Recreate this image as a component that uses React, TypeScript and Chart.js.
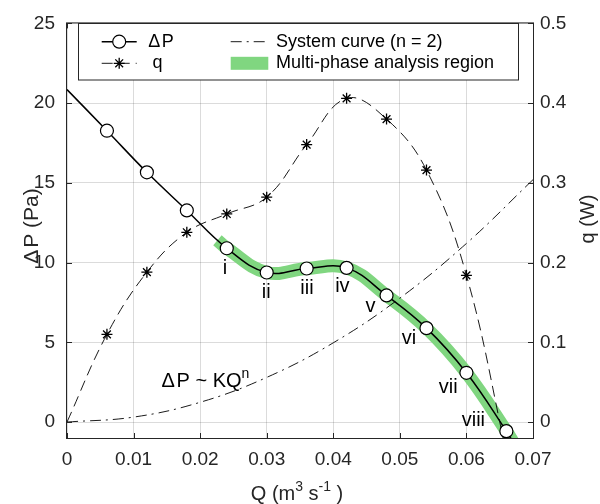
import React, { useEffect, useRef } from "react";
import { Chart, registerables } from "chart.js";

Chart.register(...registerables);

// ---------------- data ----------------
const flowQ = [0.006, 0.012, 0.018, 0.024, 0.03, 0.036, 0.042, 0.048, 0.054, 0.06, 0.066];
const pressureDrop = [18.27, 15.66, 13.27, 10.9, 9.38, 9.63, 9.67, 7.94, 5.89, 3.09, -0.57];
const heatQ = [0.11, 0.188, 0.238, 0.261, 0.282, 0.348, 0.406, 0.38, 0.316, 0.184, -0.038];

// curve end points
const dpLineStartQ = 0;
const dpLineStartP = 20.85;
const dpLineEndQ = 0.0675;
const dpLineEndP = -1.6;
const heatStartQ = 0;
const heatStartV = 0;
const multiphaseStartQ = 0.0226;
const multiphaseStartP = 11.4;
const multiphaseFirstIndex = 3;

const systemQ = [0, 0.01, 0.02, 0.03, 0.04, 0.05, 0.06, 0.07];
const systemDP = [0, 0.31, 1.24, 2.8, 4.97, 7.77, 11.2, 15.2];

const phaseLabels = ["i", "ii", "iii", "iv", "v", "vi", "vii", "viii"];

const xTicks = [0, 0.01, 0.02, 0.03, 0.04, 0.05, 0.06, 0.07];
const yLeftTicks = [0, 5, 10, 15, 20, 25];
const yRightTicks = [0, 0.1, 0.2, 0.3, 0.4, 0.5];

const legendLabels = ["\u0394\u200AP", "q", "System curve (n = 2)", "Multi-phase analysis region"];

// ---------------- style ----------------
const FONT = "'Liberation Sans', Arial, Helvetica, sans-serif";
const AX = "#262626";
const GRID = "rgba(0,0,0,0.14)";
const GREEN = "rgb(128,214,128)";
const Q_DASH = [11, 6];
const SYS_DASH = [11, 5, 2, 5];
// label offsets (px) relative to the marker
const phaseOffsets: [number, number][] = [
  [-1.7, 20],
  [-0.4, 20],
  [0.3, 20.3],
  [-4.2, 18.5],
  [-16, 11],
  [-17.5, 10.2],
  [-18.3, 14.8],
  [-33, -10.3],
];

const fmt = (v: number) => String(+Number(v).toFixed(3));

function drawStar(ctx: CanvasRenderingContext2D, x: number, y: number, r: number) {
  ctx.beginPath();
  for (let k = 0; k < 4; k++) {
    const a = (k * Math.PI) / 4;
    ctx.moveTo(x - Math.cos(a) * r, y - Math.sin(a) * r);
    ctx.lineTo(x + Math.cos(a) * r, y + Math.sin(a) * r);
  }
  ctx.stroke();
}

function drawCircle(ctx: CanvasRenderingContext2D, x: number, y: number, r: number) {
  ctx.beginPath();
  ctx.arc(x, y, r, 0, Math.PI * 2);
  ctx.fillStyle = "#fff";
  ctx.fill();
  ctx.stroke();
}

type Part = { t: string; sup?: boolean };
function drawRich(
  ctx: CanvasRenderingContext2D,
  parts: Part[],
  x: number,
  y: number,
  size: number,
  align: "left" | "center"
) {
  const supSize = size * 0.7;
  const rise = size * 0.45;
  let total = 0;
  const widths = parts.map((p) => {
    ctx.font = `${p.sup ? supSize : size}px ${FONT}`;
    const w = ctx.measureText(p.t).width;
    total += w;
    return w;
  });
  let cx = align === "center" ? x - total / 2 : x;
  ctx.textAlign = "left";
  ctx.textBaseline = "alphabetic";
  parts.forEach((p, i) => {
    ctx.font = `${p.sup ? supSize : size}px ${FONT}`;
    ctx.fillText(p.t, cx, p.sup ? y - rise : y);
    cx += widths[i];
  });
}

const overlayPlugin = {
  id: "overlay",
  afterDatasetsDraw(chart: any) {
    const { ctx, chartArea: a, scales } = chart;
    const xs = scales.x;
    const yl = scales.y;
    const yr = scales.y1;
    ctx.save();

    // frame
    ctx.strokeStyle = AX;
    ctx.lineWidth = 1;
    ctx.setLineDash([]);
    ctx.strokeRect(a.left - 0.5, a.top - 0.5, a.right - a.left + 1, a.bottom - a.top + 1);

    // inward tick marks
    const TL = 5;
    ctx.beginPath();
    xTicks.forEach((v) => {
      const px = Math.round(xs.getPixelForValue(v)) + 0.5;
      ctx.moveTo(px, a.bottom);
      ctx.lineTo(px, a.bottom - TL);
      ctx.moveTo(px, a.top);
      ctx.lineTo(px, a.top + TL);
    });
    yLeftTicks.forEach((v) => {
      const py = Math.round(yl.getPixelForValue(v)) + 0.5;
      ctx.moveTo(a.left, py);
      ctx.lineTo(a.left + TL, py);
    });
    yRightTicks.forEach((v) => {
      const py = Math.round(yr.getPixelForValue(v)) + 0.5;
      ctx.moveTo(a.right, py);
      ctx.lineTo(a.right - TL, py);
    });
    ctx.stroke();

    // phase labels
    ctx.fillStyle = "#000";
    ctx.font = `20px ${FONT}`;
    ctx.textAlign = "center";
    ctx.textBaseline = "middle";
    phaseLabels.forEach((lab, k) => {
      const idx = multiphaseFirstIndex + k;
      const px = xs.getPixelForValue(flowQ[idx]) + phaseOffsets[k][0];
      const py = yl.getPixelForValue(pressureDrop[idx]) + phaseOffsets[k][1];
      ctx.fillText(lab, px, py);
    });

    // system-curve annotation
    ctx.fillStyle = "#000";
    drawRich(
      ctx,
      [{ t: "\u0394\u200AP ~ KQ" }, { t: "n", sup: true }],
      161.5,
      386.5,
      20,
      "left"
    );

    // legend
    const L = { x: 78.5, y: 23.5, w: 440, h: 56.5 };
    ctx.fillStyle = "#fff";
    ctx.fillRect(L.x, L.y, L.w, L.h);
    ctx.strokeStyle = AX;
    ctx.lineWidth = 1;
    ctx.strokeRect(L.x, L.y, L.w, L.h);

    const r1 = 41.7;
    const r2 = 63.3;
    const c1a = 101.7;
    const c1b = 136.7;
    const c2a = 230.7;
    const c2b = 268.3;

    // ΔP
    ctx.strokeStyle = "#000";
    ctx.lineWidth = 1.5;
    ctx.beginPath();
    ctx.moveTo(c1a, r1);
    ctx.lineTo(c1b, r1);
    ctx.stroke();
    ctx.lineWidth = 1.2;
    drawCircle(ctx, (c1a + c1b) / 2, r1, 6.5);
    // q
    ctx.lineWidth = 0.9;
    ctx.setLineDash(Q_DASH);
    ctx.beginPath();
    ctx.moveTo(c1a, r2);
    ctx.lineTo(c1b, r2);
    ctx.stroke();
    ctx.setLineDash([]);
    ctx.lineWidth = 1.3;
    drawStar(ctx, (c1a + c1b) / 2, r2, 5.5);
    // system curve
    ctx.lineWidth = 0.9;
    ctx.setLineDash(SYS_DASH);
    ctx.beginPath();
    ctx.moveTo(c2a, r1);
    ctx.lineTo(c2b, r1);
    ctx.stroke();
    ctx.setLineDash([]);
    // green patch
    ctx.fillStyle = GREEN;
    ctx.fillRect(c2a, r2 - 6.5, c2b - c2a, 13);

    ctx.fillStyle = "#000";
    ctx.font = `18px ${FONT}`;
    ctx.textAlign = "left";
    ctx.textBaseline = "middle";
    ctx.fillText(legendLabels[0], 148.3, r1);
    ctx.fillText(legendLabels[1], 152.5, r2);
    ctx.fillText(legendLabels[2], 276, r1);
    ctx.fillText(legendLabels[3], 276, r2);

    ctx.restore();
  },
  afterDraw(chart: any) {
    const { ctx } = chart;
    ctx.save();
    ctx.fillStyle = AX;
    // x title
    drawRich(
      ctx,
      [{ t: "Q (m" }, { t: "3", sup: true }, { t: " s" }, { t: "-1", sup: true }, { t: " )" }],
      297,
      500,
      20,
      "center"
    );
    // left title
    ctx.save();
    ctx.translate(38, 226);
    ctx.rotate(-Math.PI / 2);
    ctx.font = `21px ${FONT}`;
    ctx.textAlign = "center";
    ctx.textBaseline = "alphabetic";
    ctx.fillText("\u0394\u200AP (Pa)", 0, 0);
    ctx.restore();
    // right title
    ctx.save();
    ctx.translate(594, 219);
    ctx.rotate(-Math.PI / 2);
    ctx.font = `20px ${FONT}`;
    ctx.textAlign = "center";
    ctx.textBaseline = "alphabetic";
    ctx.fillText("q (W)", 0, 0);
    ctx.restore();
    ctx.restore();
  },
};

export default function App() {
  const ref = useRef<HTMLCanvasElement | null>(null);

  useEffect(() => {
    if (!ref.current) return;
    const dpPoints = flowQ.map((q, i) => ({ x: q, y: pressureDrop[i] }));
    const dpLine = [
      { x: dpLineStartQ, y: dpLineStartP },
      ...dpPoints,
      { x: dpLineEndQ, y: dpLineEndP },
    ];
    const heatLine = [
      { x: heatStartQ, y: heatStartV },
      ...flowQ.map((q, i) => ({ x: q, y: heatQ[i] })),
    ];
    const greenLine = [
      { x: multiphaseStartQ, y: multiphaseStartP },
      ...dpPoints.slice(multiphaseFirstIndex),
      { x: dpLineEndQ, y: dpLineEndP },
    ];
    const systemLine = systemQ.map((q, i) => ({ x: q, y: systemDP[i] }));

    const tickFont = { family: FONT, size: 19 };

    const chart = new Chart(ref.current, {
      type: "line",
      data: {
        datasets: [
          {
            label: "dP",
            data: dpLine,
            yAxisID: "y",
            borderColor: "#000",
            borderWidth: 1.5,
            tension: 0.4,
            pointRadius: (c: any) => (c.dataIndex === 0 || c.dataIndex === dpLine.length - 1 ? 0 : 6.5),
            pointBackgroundColor: "#fff",
            pointBorderColor: "#000",
            pointBorderWidth: 1.2,
            order: 0,
            clip: 0,
          },
          {
            label: "q",
            data: heatLine,
            yAxisID: "y1",
            borderColor: "#000",
            borderWidth: 0.9,
            borderDash: Q_DASH,
            tension: 0.4,
            pointStyle: "star",
            pointRadius: (c: any) => (c.dataIndex === 0 ? 0 : 5.5),
            pointBorderColor: "#000",
            pointBorderWidth: 1.3,
            order: 1,
            clip: 0,
          },
          {
            label: "system",
            data: systemLine,
            yAxisID: "y",
            borderColor: "#000",
            borderWidth: 0.9,
            borderDash: SYS_DASH,
            tension: 0.4,
            pointRadius: 0,
            order: 2,
            clip: 0,
          },
          {
            label: "multiphase",
            data: greenLine,
            yAxisID: "y",
            borderColor: GREEN,
            borderWidth: 13,
            borderCapStyle: "butt",
            borderJoinStyle: "round",
            tension: 0.4,
            pointRadius: 0,
            order: 3,
            clip: 0,
          },
        ] as any,
      },
      options: {
        responsive: false,
        maintainAspectRatio: false,
        animation: false,
        devicePixelRatio: 1,
        layout: { padding: { top: 17, left: 0, right: 0, bottom: 0 } },
        plugins: { legend: { display: false }, tooltip: { enabled: false } },
        events: [],
        scales: {
          x: {
            type: "linear",
            position: "bottom",
            min: 0,
            max: 0.07,
            afterBuildTicks: (s: any) => {
              s.ticks = xTicks.map((v) => ({ value: v }));
            },
            afterFit: (s: any) => {
              s.height = 66;
            },
            grid: { color: GRID, drawTicks: false, lineWidth: 1 },
            border: { display: false },
            ticks: {
              font: tickFont,
              color: AX,
              padding: 10,
              maxRotation: 0,
              autoSkip: false,
              callback: (v: any) => fmt(v),
            },
          },
          y: {
            type: "linear",
            position: "left",
            min: -1,
            max: 25,
            afterBuildTicks: (s: any) => {
              s.ticks = yLeftTicks.map((v) => ({ value: v }));
            },
            afterFit: (s: any) => {
              s.width = 67;
            },
            grid: { color: GRID, drawTicks: false, lineWidth: 1 },
            border: { display: false },
            ticks: { font: tickFont, color: AX, padding: 12, callback: (v: any) => fmt(v) },
          },
          y1: {
            type: "linear",
            position: "right",
            min: -0.02,
            max: 0.5,
            afterBuildTicks: (s: any) => {
              s.ticks = yRightTicks.map((v) => ({ value: v }));
            },
            afterFit: (s: any) => {
              s.width = 67;
            },
            grid: { display: false, drawTicks: false },
            border: { display: false },
            ticks: { font: tickFont, color: AX, padding: 7, callback: (v: any) => fmt(v) },
          },
        },
      } as any,
      plugins: [overlayPlugin],
    });
    return () => chart.destroy();
  }, []);

  return (
    <div style={{ position: "fixed", left: 0, top: 0, width: 600, height: 504, background: "#fff" }}>
      <canvas ref={ref} width={600} height={504} style={{ display: "block", width: 600, height: 504 }} />
    </div>
  );
}
